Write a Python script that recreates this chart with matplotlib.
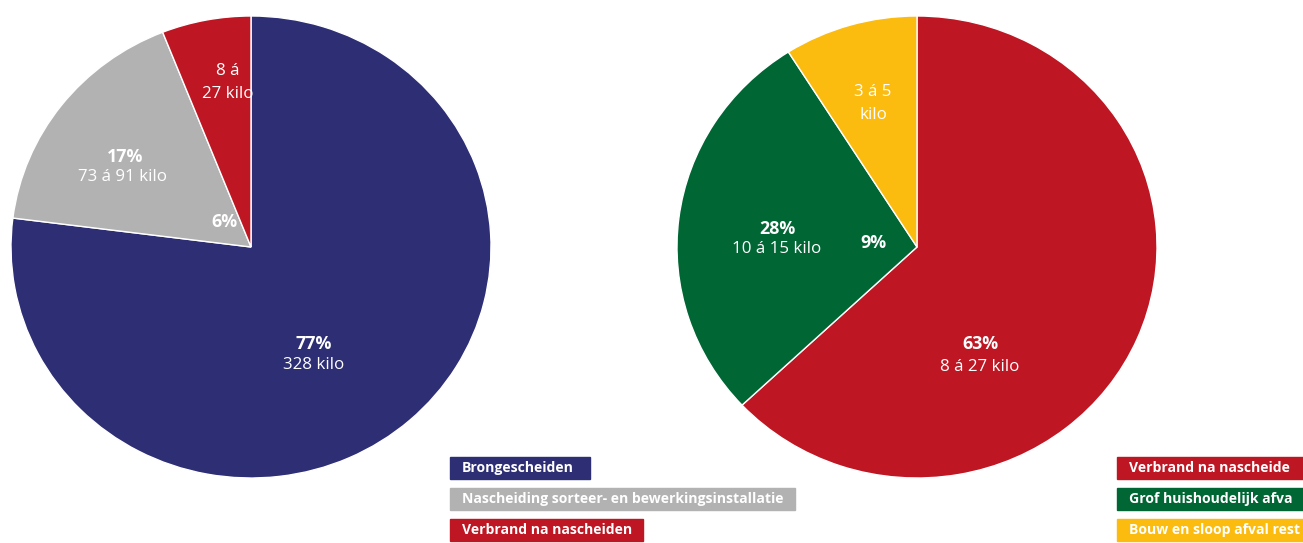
import matplotlib
matplotlib.use("Agg")
from matplotlib import pyplot as plt
from matplotlib.patches import Rectangle

plt.rcParams['font.family'] = ['Open Sans', 'DejaVu Sans']

W, H = 1303, 543

# left pie data
left_shares = [77, 17, 6]
left_colors = ['#2d2e74', '#b2b2b2', '#be1622']
left_names = ['Brongescheiden', 'Nascheiding sorteer- en bewerkingsinstallatie', 'Verbrand na nascheiden']

# right pie data
right_shares = [63, 28, 9]
right_colors = ['#be1622', '#006633', '#fbbb0f']
right_names = ['Verbrand na nascheide', 'Grof huishoudelijk afva', 'Bouw en sloop afval rest']

# labels: (pixel x, pixel y, text, bold)
left_labels = [(314, 344, '77%', True), (314, 365, '328 kilo', False),
               (125, 157, '17%', True), (123, 177, '73 á 91 kilo', False),
               (224, 222, '6%', True),
               (228, 71, '8 á', False), (228, 94, '27 kilo', False)]
right_labels = [(980, 344, '63%', True), (980, 367, '8 á 27 kilo', False),
                (777, 229, '28%', True), (777, 249, '10 á 15 kilo', False),
                (873, 243, '9%', True),
                (873, 92, '3 á 5', False), (873, 115, 'kilo', False)]

fig = plt.figure(figsize=(W / 100, H / 100), dpi=100)


def draw_pie(cx, cy, rx, ry, shares, colors, labels):
    ax = fig.add_axes([(cx - rx) / W, (H - cy - ry) / H, 2 * rx / W, 2 * ry / H])
    ax.pie(shares, colors=colors, startangle=90, counterclock=False,
           wedgeprops=dict(edgecolor='white', linewidth=1))
    ax.set_aspect('auto')
    ax.set_xlim(-1, 1)
    ax.set_ylim(-1, 1)
    ax.axis('off')
    for px, py, t, b in labels:
        ax.text((px - cx) / rx, (cy - py) / ry, t, color='white',
                fontsize=12.8 if b else 12.2,
                fontweight='bold' if b else 'normal', ha='center', va='center')


draw_pie(251, 247, 240, 231, left_shares, left_colors, left_labels)
draw_pie(917, 247, 240, 231, right_shares, right_colors, right_labels)

# legends: boxes (x0, x1) in pixels
left_boxes = [(450, 590), (450, 795), (450, 643)]
right_boxes = [(1117, 1303), (1117, 1303), (1117, 1303)]
rows = [457, 488, 519]


def draw_legend(boxes, names, colors):
    for (x0, x1), y0, name, c in zip(boxes, rows, names, colors):
        fig.patches.append(Rectangle((x0 / W, (H - y0 - 22) / H), (x1 - x0) / W, 22 / H,
                                     transform=fig.transFigure, color=c, zorder=1))
        fig.text((x0 + 12) / W, (H - y0 - 11) / H, name, color='white', fontsize=10.1,
                 fontweight='bold', ha='left', va='center', zorder=2)


draw_legend(left_boxes, left_names, left_colors)
draw_legend(right_boxes, right_names, right_colors)

fig.savefig('out.png', dpi=100)
